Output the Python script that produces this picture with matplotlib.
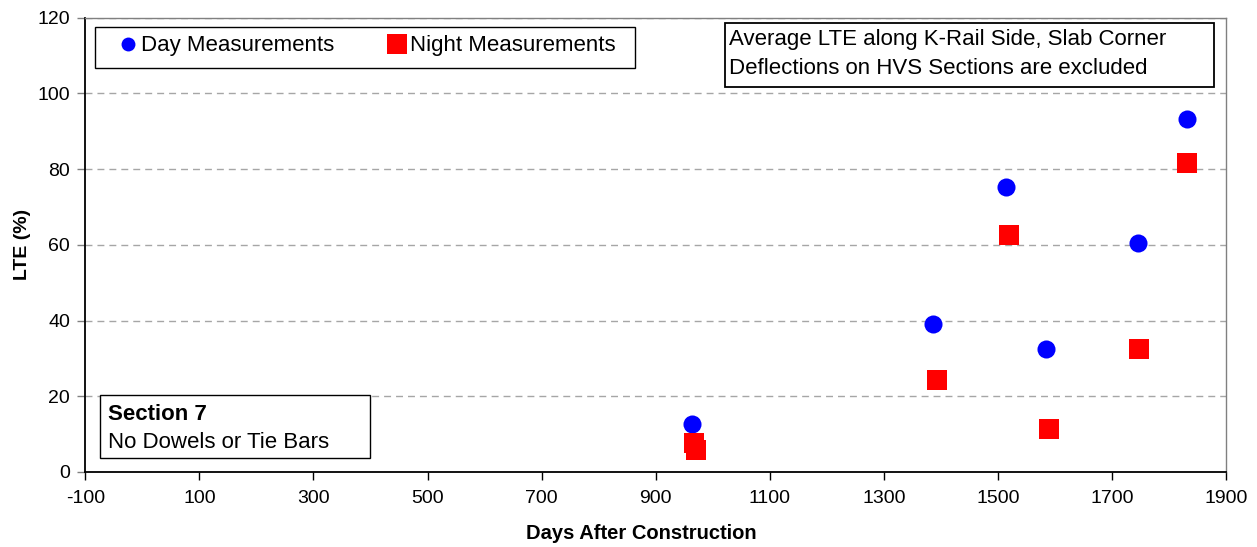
import matplotlib
matplotlib.use('Agg')
import matplotlib.pyplot as plt
from matplotlib.patches import Rectangle
from matplotlib.lines import Line2D

# values
day_days = [963, 1386, 1515, 1585, 1745, 1831]
day_lte = [12.8, 39.1, 75.3, 32.6, 60.4, 93.3]
night_days = [967, 970, 1393, 1519, 1589, 1748, 1832]
night_lte = [7.7, 5.8, 24.3, 62.5, 11.4, 32.5, 81.6]
x_ticks = list(range(-100, 2000, 200))
y_ticks = list(range(0, 140, 20))

plt.rcParams['font.family'] = ['Liberation Sans', 'DejaVu Sans']
plt.rcParams['axes.unicode_minus'] = False

W, H = 1257, 547
AX_L, AX_R, AX_T, AX_B = 85.3, 1226.0, 17.5, 472.0


def fx(x):
    # pixel x -> axes fraction
    return (x - AX_L) / (AX_R - AX_L)


def fy(y):
    # pixel y (from top) -> axes fraction
    return (AX_B - y) / (AX_B - AX_T)


fig = plt.figure(figsize=(W / 100, H / 100), dpi=100)
ax = fig.add_axes([AX_L / W, 1 - AX_B / H, (AX_R - AX_L) / W, (AX_B - AX_T) / H])

ax.plot(day_days, day_lte, linestyle='none', marker='o', markersize=13,
        color='#0000ff', markeredgewidth=0, zorder=3)
ax.plot(night_days, night_lte, linestyle='none', marker='s', markersize=14.4,
        color='#ff0000', markeredgewidth=0, zorder=4)

ax.set_xlim(-100, 1900)
ax.set_ylim(0, 120)
ax.set_xticks(x_ticks)
ax.set_yticks(y_ticks)

ax.yaxis.grid(True, color='#a6a6a6', linewidth=1, dashes=(5, 3.6))
ax.set_axisbelow(True)

for side in ['left', 'bottom']:
    ax.spines[side].set_color('black')
    ax.spines[side].set_linewidth(1.3)
for side in ['top', 'right']:
    ax.spines[side].set_color('#808080')
    ax.spines[side].set_linewidth(1.0)

ax.tick_params(axis='x', direction='out', length=6, width=1, color='black',
               labelsize=14, pad=7)
ax.tick_params(axis='y', direction='out', length=6, width=1, color='#808080',
               labelsize=14, pad=5)

ax.set_xlabel('Days After Construction', fontsize=14.5, fontweight='bold')
ax.xaxis.set_label_coords(fx(641), fy(524))
ax.set_ylabel('LTE (%)', fontsize=14, fontweight='bold')
ax.yaxis.set_label_coords(fx(31), fy(244))

# legend box
ax.add_patch(Rectangle((fx(95), fy(68)), fx(635) - fx(95), fy(27) - fy(68),
                       transform=ax.transAxes, facecolor='white', edgecolor='black',
                       linewidth=1, zorder=5))
handles = [
    Line2D([], [], linestyle='none', marker='o', markersize=10, color='#0000ff',
           markeredgewidth=0),
    Line2D([], [], linestyle='none', marker='s', markersize=14.4, color='#ff0000',
           markeredgewidth=0),
]
leg = ax.legend(handles, ['Day Measurements', 'Night Measurements'], ncol=2,
                loc='center left', bbox_to_anchor=(fx(121.3), fy(46)),
                frameon=False, fontsize=16, borderpad=0, borderaxespad=0,
                handlelength=0.6, handletextpad=0.3, columnspacing=2.5)
leg.set_zorder(6)

# note box, upper right
ax.add_patch(Rectangle((fx(725), fy(87)), fx(1214) - fx(725), fy(23) - fy(87),
                       transform=ax.transAxes, facecolor='white', edgecolor='black',
                       linewidth=1.3, zorder=5))
ax.text(fx(729), fy(40), 'Average LTE along K-Rail Side, Slab Corner',
        transform=ax.transAxes, fontsize=16, va='center', ha='left', zorder=6)
ax.text(fx(729), fy(69), 'Deflections on HVS Sections are excluded',
        transform=ax.transAxes, fontsize=16, va='center', ha='left', zorder=6)

# section box, lower left
ax.add_patch(Rectangle((fx(100), fy(458)), fx(370) - fx(100), fy(395) - fy(458),
                       transform=ax.transAxes, facecolor='white', edgecolor='black',
                       linewidth=1, zorder=5))
ax.text(fx(107.7), fy(414), 'Section 7', transform=ax.transAxes, fontsize=16,
        fontweight='bold', va='center', ha='left', zorder=6)
ax.text(fx(107.7), fy(442), 'No Dowels or Tie Bars', transform=ax.transAxes,
        fontsize=16, va='center', ha='left', zorder=6)

fig.savefig('out.png', dpi=100)
